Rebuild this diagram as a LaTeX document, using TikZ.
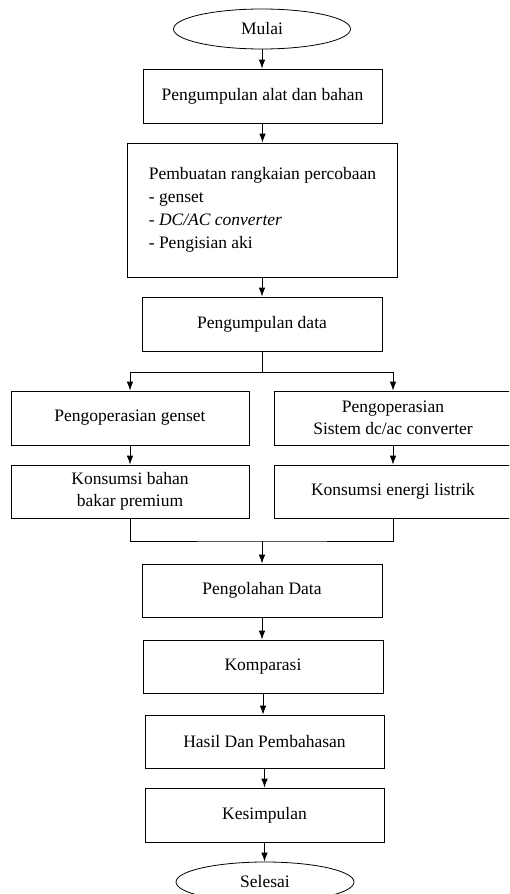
\documentclass[tikz,border=0pt]{standalone}
\usepackage{fontspec}
\setmainfont{Liberation Serif}
\usetikzlibrary{shapes.geometric,arrows.meta}
\begin{document}
\begin{tikzpicture}[x=1pt,y=-1pt,
  every node/.style={font=\fontsize{17.5}{22}\selectfont, inner sep=0pt},
  box/.style={draw, line width=0.8pt, minimum width=239pt, minimum height=54pt, align=center},
  term/.style={draw, ellipse, line width=0.8pt, minimum width=177pt, minimum height=40pt},
  conn/.style={line width=0.8pt},
  arr/.style={conn, -{Latex[length=9pt,width=6.5pt]}}]
\useasboundingbox (0,0) rectangle (509,894);
\clip (0,0) rectangle (509,894);
\node[term] (start) at (262,29) {Mulai};
\node[box] (b1) at (262.5,96) {Pengumpulan alat dan bahan};
\node[box, minimum width=270pt, minimum height=134pt] (b2) at (262,210) {};
\node[align=left, font=\fontsize{17.5}{23}\selectfont] (b2t) at (262.5,210) {Pembuatan rangkaian percobaan\\- genset\\- \textit{DC/AC converter}\\- Pengisian aki};
\node[box, minimum width=240pt] (b3) at (262,324) {Pengumpulan data};
\node[box, minimum width=238pt] (A) at (130,418) {Pengoperasian genset};
\node[box, minimum width=238pt] (B) at (393,418) {Pengoperasian\\Sistem dc/ac converter};
\node[box, minimum width=238pt, minimum height=53pt] (C) at (130,491.5) {Konsumsi bahan\\bakar premium};
\node[box, minimum width=238pt, minimum height=53pt] (D) at (393,491.5) {Konsumsi energi listrik};
\node[box, minimum width=240pt, minimum height=53pt] (P) at (262,590.5) {Pengolahan Data};
\node[box, minimum width=240pt, minimum height=53pt] (K) at (263,666.5) {Komparasi};
\node[box, minimum width=239pt, minimum height=53pt] (H) at (264.5,741.5) {Hasil Dan Pembahasan};
\node[box, minimum width=239pt, minimum height=54pt] (Ks) at (264.5,815) {Kesimpulan};
\node[term, minimum width=178pt] (end) at (265,882) {Selesai};
\coordinate (j) at (262,372);
\coordinate (m) at (262,541);
\draw[arr] (start) -- (start.south |- b1.north);
\draw[arr] (b1) -- (b1.south |- b2.north);
\draw[arr] (b2) -- (b2.south |- b3.north);
\draw[conn] (b3.south) -- (j);
\draw[arr] (j) -| (A.north);
\draw[arr] (j) -| (B.north);
\draw[arr] (A) -- (C);
\draw[arr] (B) -- (D);
\draw[conn] (C.south) |- (m) -| (D.south);
\draw[arr] (m) -- (m |- P.north);
\draw[arr] (P.south) -- (P.south |- K.north);
\draw[arr] (K.south) -- (K.south |- H.north);
\draw[arr] (H.south) -- (H.south |- Ks.north);
\draw[arr] (Ks.south) -- (Ks.south |- end.north);
\end{tikzpicture}
\end{document}
